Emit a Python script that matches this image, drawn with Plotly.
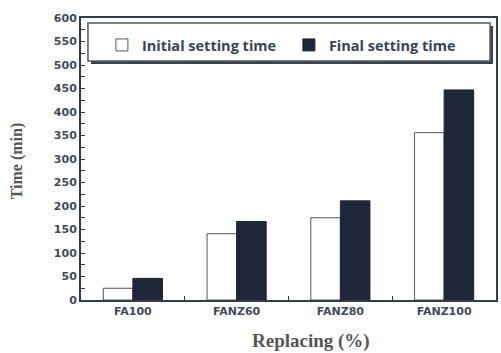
import plotly.graph_objects as go

categories = ["FA100", "FANZ60", "FANZ80", "FANZ100"]
initial_setting = [25, 141, 175, 356]
final_setting = [46, 167, 211, 447]
y_tick_vals = [0, 50, 100, 150, 200, 250, 300, 350, 400, 450, 500, 550, 600]
y_tick_text = [str(v) for v in y_tick_vals]

W, H = 501, 353
L, R, T, B = 81, 498, 18, 300

def px(x):
    return (x - L) / (R - L)

def py(y):
    return (B - y) / (B - T)

fig = go.Figure()
fig.add_trace(go.Bar(
    x=categories, y=initial_setting, name="Initial setting time",
    marker=dict(color="white", line=dict(color="#555a60", width=1)),
))
fig.add_trace(go.Bar(
    x=categories, y=final_setting, name="Final setting time",
    marker=dict(color="#1e2738", line=dict(color="#1e2738", width=1)),
))

tickfont = dict(family="DejaVu Sans", size=11, color="#404b5a", weight="bold")

fig.update_layout(
    width=W, height=H,
    margin=dict(l=L, r=W - R, t=T, b=H - B),
    paper_bgcolor="white", plot_bgcolor="white",
    barmode="group", bargap=0.43, bargroupgap=0,
    showlegend=True,
    legend=dict(
        orientation="h", x=px(102), y=py(29), xanchor="left", yanchor="top",
        bgcolor="rgba(0,0,0,0)", borderwidth=0,
        font=dict(family="Open Sans", size=14.5, color="#3a4554", weight="bold"),
        entrywidth=142, entrywidthmode="pixels",
        itemclick=False,
    ),
    xaxis=dict(
        range=[-0.5, 3.5], showline=True, linecolor="#2f3d4d", linewidth=2,
        mirror=True, ticks="inside", ticklen=4, tickcolor="#2f3d4d",
        tickson="boundaries", tickfont=tickfont, showgrid=False,
    ),
    yaxis=dict(
        range=[0, 600], showline=True, linecolor="#2f3d4d", linewidth=2,
        mirror=True, ticks="inside", ticklen=4, tickcolor="#2f3d4d",
        tickvals=y_tick_vals, ticktext=y_tick_text, tickfont=tickfont,
        showgrid=False, zeroline=False,
        minor=dict(dtick=25, ticks="inside", ticklen=4, tickcolor="#2f3d4d", showgrid=False),
    ),
    shapes=[
        dict(type="rect", xref="paper", yref="paper",
             x0=px(91), x1=px(495), y0=py(64), y1=py(26),
             fillcolor="#3a4150", line=dict(width=0), layer="above"),
        dict(type="rect", xref="paper", yref="paper",
             x0=px(88), x1=px(492), y0=py(61), y1=py(23),
             fillcolor="white", line=dict(color="#555a60", width=1.5), layer="above"),
    ],
    annotations=[
        dict(text="Time (min)", xref="paper", yref="paper",
             x=px(17), y=py(161), textangle=-90, showarrow=False,
             xanchor="center", yanchor="middle",
             font=dict(family="Liberation Serif", size=16, color="#555555", weight="bold")),
        dict(text="Replacing (%)", xref="paper", yref="paper",
             x=px(312), y=py(341), showarrow=False,
             xanchor="center", yanchor="middle",
             font=dict(family="Liberation Serif", size=19, color="#555555", weight="bold")),
    ],
)

fig.write_html("out.html", config={"displayModeBar": False})

with open("out.html", "r", encoding="utf-8") as f:
    html = f.read()
html = html.replace("<body>", '<body style="margin:0;padding:0;overflow:hidden">', 1)
with open("out.html", "w", encoding="utf-8") as f:
    f.write(html)
